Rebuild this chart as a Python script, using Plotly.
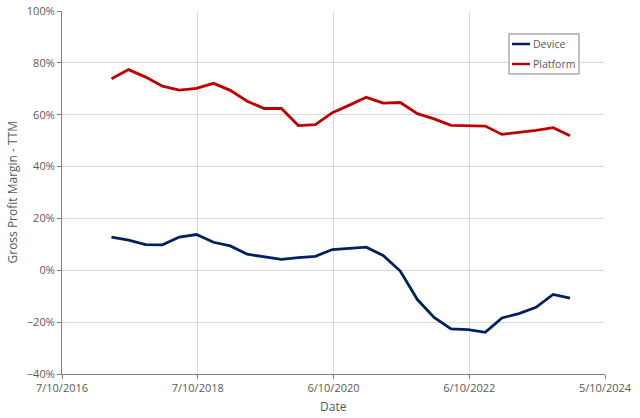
import plotly.graph_objects as go

dates = [
    "2017-06-30", "2017-09-30", "2017-12-31", "2018-03-31",
    "2018-06-30", "2018-09-30", "2018-12-31", "2019-03-31",
    "2019-06-30", "2019-09-30", "2019-12-31", "2020-03-31",
    "2020-06-30", "2020-09-30", "2020-12-31", "2021-03-31",
    "2021-06-30", "2021-09-30", "2021-12-31", "2022-03-31",
    "2022-06-30", "2022-09-30", "2022-12-31", "2023-03-31",
    "2023-06-30", "2023-09-30", "2023-12-31", "2024-03-31",
]
device = [12.8, 11.6, 9.9, 9.8, 12.8, 13.8, 10.8, 9.4, 6.2, 5.3, 4.2, 4.9, 5.4, 8.0,
          8.4, 8.9, 5.7, -0.3, -11.3, -18.2, -22.6, -22.9, -23.9, -18.4, -16.7, -14.3,
          -9.3, -10.7]
platform = [73.9, 77.4, 74.5, 71.0, 69.5, 70.2, 72.1, 69.4, 65.2, 62.4, 62.4, 55.8,
            56.2, 60.8, 63.7, 66.7, 64.5, 64.7, 60.4, 58.4, 55.9, 55.8, 55.6, 52.4,
            53.1, 54.0, 55.0, 51.9]

series_names = ["Device", "Platform"]
series_colors = ["#002060", "#C00000"]

x_tick_vals = ["2016-10-07", "2018-10-07", "2020-10-06", "2022-10-06", "2024-10-05"]
x_tick_text = ["7/10/2016", "7/10/2018", "6/10/2020", "6/10/2022", "5/10/2024"]

FONT = "Open Sans"
GRAY = "#595959"

W, H = 640, 418
PX0, PX1, PY0, PY1 = 62, 605, 11, 374
L, T = PX0, PY0
R, B = W - PX1, H - PY1
PW, PH = PX1 - PX0, PY1 - PY0


def px_x(p):
    return (p - PX0) / PW


def px_y(p):
    return (PY1 - p) / PH


fig = go.Figure()
for name, vals, col in zip(series_names, [device, platform], series_colors):
    fig.add_trace(go.Scatter(x=dates, y=vals, mode="lines", name=name,
                             line=dict(color=col, width=2.8), showlegend=False))

# custom compact legend (Excel style)
shapes = [dict(type="rect", xref="paper", yref="paper",
               x0=px_x(509), x1=px_x(579), y0=px_y(74), y1=px_y(34),
               line=dict(color="#808080", width=1), fillcolor="white", layer="above")]
annotations = []
for i, (name, col) in enumerate(zip(series_names, series_colors)):
    yy = px_y(44 + 20 * i)
    shapes.append(dict(type="line", xref="paper", yref="paper",
                       x0=px_x(512), x1=px_x(530), y0=yy, y1=yy,
                       line=dict(color=col, width=2.5), layer="above"))
    annotations.append(dict(xref="paper", yref="paper", x=px_x(531), y=yy,
                            text=name, showarrow=False, xanchor="left", yanchor="middle",
                            font=dict(family=FONT, size=10.5, color=GRAY)))

annotations.append(dict(xref="paper", yref="paper", x=0.5, y=px_y(407),
                        text="Date", showarrow=False, xanchor="center", yanchor="middle",
                        font=dict(family=FONT, size=12, color=GRAY)))
annotations.append(dict(xref="paper", yref="paper", x=px_x(12), y=0.5,
                        text="Gross Profit Margin - TTM", showarrow=False, textangle=-90,
                        xanchor="center", yanchor="middle",
                        font=dict(family=FONT, size=12, color=GRAY)))

fig.update_layout(
    width=W, height=H,
    margin=dict(l=L, r=R, t=T, b=B),
    paper_bgcolor="white", plot_bgcolor="white",
    font=dict(family=FONT, size=11, color=GRAY),
    showlegend=False,
    shapes=shapes, annotations=annotations,
)
fig.update_xaxes(
    type="date", range=[x_tick_vals[0], x_tick_vals[-1]],
    tickmode="array", tickvals=x_tick_vals, ticktext=x_tick_text,
    showgrid=True, gridcolor="#D9D9D9", gridwidth=1,
    showline=True, linecolor="#808080", linewidth=1,
    ticks="outside", ticklen=4, tickcolor="#808080",
    tickfont=dict(size=11, color=GRAY),
    automargin=False, zeroline=False,
)
fig.update_yaxes(
    range=[-40, 100], dtick=20, tick0=0, ticksuffix="%",
    showgrid=True, gridcolor="#D9D9D9", gridwidth=1,
    showline=True, linecolor="#808080", linewidth=1,
    ticks="outside", ticklen=4, tickcolor="#808080",
    tickfont=dict(size=11, color=GRAY),
    automargin=False, zeroline=False,
)

fig.write_html("out.html", config={"displayModeBar": False},
               post_script="document.body.style.margin='0';")
